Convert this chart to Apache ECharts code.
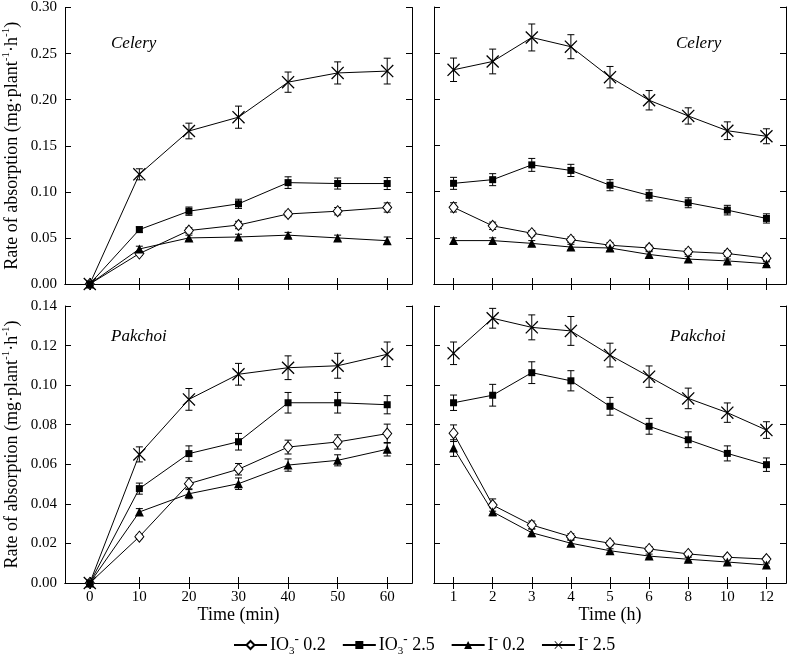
<!DOCTYPE html>
<html>
<head>
<meta charset="utf-8">
<script src="https://cdn.jsdelivr.net/npm/echarts@6/dist/echarts.min.js"></script>
<style>html,body{margin:0;padding:0;background:#fff;}#c{width:787px;height:654px;}</style>
</head>
<body>
<div id="c"></div>
<script>
// ---------- categories / ticks ----------
const minCats = ['0', '10', '20', '30', '40', '50', '60'];
const hourCats = ['1', '2', '3', '4', '5', '6', '8', '10', '12'];
const seriesNames = ['IO3- 0.2', 'IO3- 2.5', 'I- 0.2', 'I- 2.5'];

// ---------- Celery, time (min) ----------
const celeryMin_IO3_02 = [0, 0.033, 0.058, 0.064, 0.076, 0.079, 0.083];
const celeryMin_IO3_25 = [0, 0.059, 0.079, 0.087, 0.110, 0.109, 0.109];
const celeryMin_I_02   = [0, 0.038, 0.050, 0.051, 0.053, 0.050, 0.047];
const celeryMin_I_25   = [0, 0.119, 0.166, 0.181, 0.219, 0.229, 0.231];
const celeryMinErr_IO3_02 = [0, 0.002, 0.003, 0.004, 0.003, 0.004, 0.005];
const celeryMinErr_IO3_25 = [0, 0.003, 0.0045, 0.005, 0.0063, 0.006, 0.0065];
const celeryMinErr_I_02   = [0, 0.003, 0.003, 0.003, 0.003, 0.003, 0.004];
const celeryMinErr_I_25   = [0, 0.006, 0.0085, 0.012, 0.011, 0.012, 0.014];

// ---------- Celery, time (h) ----------
const celeryH_IO3_02 = [0.083, 0.063, 0.055, 0.048, 0.042, 0.039, 0.035, 0.033, 0.028];
const celeryH_IO3_25 = [0.109, 0.113, 0.129, 0.123, 0.107, 0.096, 0.088, 0.080, 0.071];
const celeryH_I_02   = [0.047, 0.047, 0.044, 0.040, 0.039, 0.032, 0.027, 0.025, 0.022];
const celeryH_I_25   = [0.232, 0.241, 0.267, 0.257, 0.224, 0.199, 0.182, 0.166, 0.160];
const celeryHErr_IO3_02 = [0.005, 0.004, 0.003, 0.003, 0.003, 0.003, 0.003, 0.003, 0.003];
const celeryHErr_IO3_25 = [0.0065, 0.0065, 0.007, 0.0066, 0.006, 0.006, 0.0054, 0.0052, 0.005];
const celeryHErr_I_02   = [0.003, 0.003, 0.003, 0.003, 0.003, 0.003, 0.003, 0.002, 0.002];
const celeryHErr_I_25   = [0.0127, 0.0134, 0.0146, 0.013, 0.0116, 0.0105, 0.0088, 0.0096, 0.0081];

// ---------- Pakchoi, time (min) ----------
const pakMin_IO3_02 = [0, 0.0234, 0.0502, 0.0575, 0.0687, 0.0713, 0.0755];
const pakMin_IO3_25 = [0, 0.0477, 0.0654, 0.0714, 0.0911, 0.0911, 0.0901];
const pakMin_I_02   = [0, 0.0359, 0.0451, 0.0502, 0.0596, 0.0620, 0.0676];
const pakMin_I_25   = [0, 0.0650, 0.0928, 0.1055, 0.1088, 0.1098, 0.1156];
const pakMinErr_IO3_02 = [0, 0.001, 0.003, 0.0029, 0.0035, 0.0036, 0.0048];
const pakMinErr_IO3_25 = [0, 0.0028, 0.0039, 0.0042, 0.0052, 0.0052, 0.0046];
const pakMinErr_I_02   = [0, 0.0017, 0.0025, 0.0029, 0.0031, 0.0028, 0.0034];
const pakMinErr_I_25   = [0, 0.0038, 0.0055, 0.0055, 0.006, 0.0063, 0.0062];

// ---------- Pakchoi, time (h) ----------
const pakH_IO3_02 = [0.0757, 0.0394, 0.0293, 0.0234, 0.0201, 0.0172, 0.0147, 0.0130, 0.0121];
const pakH_IO3_25 = [0.0911, 0.0949, 0.1063, 0.1022, 0.0893, 0.0792, 0.0724, 0.0655, 0.0598];
const pakH_I_02   = [0.0682, 0.0360, 0.0254, 0.0201, 0.0163, 0.0136, 0.0120, 0.0106, 0.0091];
const pakH_I_25   = [0.1161, 0.1338, 0.1292, 0.1274, 0.1152, 0.1043, 0.0933, 0.0861, 0.0773];
const pakHErr_IO3_02 = [0.0042, 0.0031, 0.002, 0.0015, 0.0012, 0.0012, 0.001, 0.001, 0.001];
const pakHErr_IO3_25 = [0.0039, 0.0055, 0.0055, 0.0051, 0.0045, 0.004, 0.004, 0.0038, 0.0034];
const pakHErr_I_02   = [0.0042, 0.002, 0.002, 0.0015, 0.001, 0.001, 0.001, 0.001, 0.001];
const pakHErr_I_25   = [0.0057, 0.005, 0.0063, 0.0073, 0.006, 0.0054, 0.0052, 0.0049, 0.0042];

// y-axis tick settings
const celeryYMax = 0.30, celeryYStep = 0.05;
const pakYMax = 0.14, pakYStep = 0.02;

const FONT = 'Liberation Serif';

const panels = [
  { grid: { left: 62, top: 7, width: 350, height: 277 }, cats: minCats, ymax: celeryYMax, step: celeryYStep, yLabels: true, xLabels: false,
    vals: [celeryMin_IO3_02, celeryMin_IO3_25, celeryMin_I_02, celeryMin_I_25],
    errs: [celeryMinErr_IO3_02, celeryMinErr_IO3_25, celeryMinErr_I_02, celeryMinErr_I_25] },
  { grid: { left: 434, top: 7, width: 352, height: 277 }, cats: hourCats, ymax: celeryYMax, step: celeryYStep, yLabels: false, xLabels: false,
    vals: [celeryH_IO3_02, celeryH_IO3_25, celeryH_I_02, celeryH_I_25],
    errs: [celeryHErr_IO3_02, celeryHErr_IO3_25, celeryHErr_I_02, celeryHErr_I_25] },
  { grid: { left: 62, top: 306, width: 350, height: 277 }, cats: minCats, ymax: pakYMax, step: pakYStep, yLabels: true, xLabels: true, xName: 'Time (min)',
    vals: [pakMin_IO3_02, pakMin_IO3_25, pakMin_I_02, pakMin_I_25],
    errs: [pakMinErr_IO3_02, pakMinErr_IO3_25, pakMinErr_I_02, pakMinErr_I_25] },
  { grid: { left: 434, top: 306, width: 352, height: 277 }, cats: hourCats, ymax: pakYMax, step: pakYStep, yLabels: false, xLabels: true, xName: 'Time (h)',
    vals: [pakH_IO3_02, pakH_IO3_25, pakH_I_02, pakH_I_25],
    errs: [pakHErr_IO3_02, pakHErr_IO3_25, pakHErr_I_02, pakHErr_I_25] }
];

const xPath = 'path://M0,0.7L0.7,0L5,4.3L9.3,0L10,0.7L5.7,5L10,9.3L9.3,10L5,5.7L0.7,10L0,9.3L4.3,5Z';
const symbolDefs = [
  { symbol: 'diamond', size: [9, 11], fill: '#fff' },
  { symbol: 'rect', size: 7, fill: '#000' },
  { symbol: 'triangle', size: 9, fill: '#000' },
  { symbol: xPath, size: 13, fill: '#000' }
];

const axisLine = { show: true, lineStyle: { color: '#000', width: 1 } };
const tick = { show: true, inside: true, length: 6, alignWithLabel: true, lineStyle: { color: '#000', width: 1 } };
const yNameText = 'Rate of absorption (mg·plant{sup|-1}·h{sup|-1})';

const grids = [], xAxes = [], yAxes = [], series = [];
panels.forEach((p, pi) => {
  grids.push(Object.assign({ containLabel: false, show: false }, p.grid));
  xAxes.push({
    type: 'category', gridIndex: pi, data: p.cats, position: 'bottom', boundaryGap: true,
    axisLine, axisTick: tick,
    axisLabel: { show: p.xLabels, color: '#000', fontFamily: FONT, fontSize: 15, margin: 7 },
    name: p.xName || '', nameLocation: 'middle', nameGap: 23,
    nameTextStyle: { color: '#000', fontFamily: FONT, fontSize: 18, fontWeight: 'normal' },
    splitLine: { show: false }
  });
  yAxes.push({
    type: 'value', gridIndex: pi, min: 0, max: p.ymax, interval: p.step, position: 'left',
    axisLine, axisTick: { show: true, inside: true, length: 6, lineStyle: { color: '#000', width: 1 } },
    axisLabel: { show: p.yLabels, color: '#000', fontFamily: FONT, fontSize: 15, margin: 8,
      formatter: v => v.toFixed(2) },
    name: p.yLabels ? yNameText : '', nameLocation: 'middle', nameGap: 42,
    nameTextStyle: { color: '#000', fontFamily: FONT, fontSize: 18, fontWeight: 'normal', lineHeight: 22,
      rich: { sup: { fontFamily: FONT, fontSize: 11, verticalAlign: 'top', lineHeight: 22, color: '#000' } } },
    splitLine: { show: false }
  });
});
// mirror axes (top / right)
panels.forEach((p, pi) => {
  xAxes.push({
    type: 'category', gridIndex: pi, data: p.cats, position: 'top', boundaryGap: true,
    axisLine, axisTick: tick, axisLabel: { show: false }, splitLine: { show: false }
  });
  yAxes.push({
    type: 'value', gridIndex: pi, min: 0, max: p.ymax, interval: p.step, position: 'right',
    axisLine, axisTick: { show: true, inside: true, length: 6, lineStyle: { color: '#000', width: 1 } },
    axisLabel: { show: false }, splitLine: { show: false }
  });
});

function renderErr(params, api) {
  const i = api.value(0), v = api.value(1), e = api.value(2);
  if (!e) return null;
  const a = api.coord([i, v + e]);
  const b = api.coord([i, v - e]);
  const w = 3.5;
  const st = { stroke: '#000', lineWidth: 1 };
  return {
    type: 'group',
    children: [
      { type: 'line', shape: { x1: a[0], y1: a[1], x2: b[0], y2: b[1] }, style: st },
      { type: 'line', shape: { x1: a[0] - w, y1: a[1], x2: a[0] + w, y2: a[1] }, style: st },
      { type: 'line', shape: { x1: b[0] - w, y1: b[1], x2: b[0] + w, y2: b[1] }, style: st }
    ]
  };
}

panels.forEach((p, pi) => {
  p.vals.forEach((vals, si) => {
    const errs = p.errs[si];
    series.push({
      type: 'custom', name: 'err' + pi + '_' + si, xAxisIndex: pi, yAxisIndex: pi, z: 1,
      renderItem: renderErr, encode: { x: 0, y: 1 }, clip: false,
      data: vals.map((v, i) => [i, v, errs[i]])
    });
  });
  p.vals.forEach((vals, si) => {
    const sd = symbolDefs[si];
    series.push({
      type: 'line', name: seriesNames[si], xAxisIndex: pi, yAxisIndex: pi, z: 3,
      data: vals, symbol: sd.symbol, symbolSize: sd.size, showSymbol: true,
      lineStyle: { color: '#000', width: 1 },
      itemStyle: { color: sd.fill, borderColor: '#000', borderWidth: sd.fill === '#fff' ? 1 : 0 },
      emphasis: { disabled: true }
    });
  });
});

const labelStyle = { fill: '#000', font: 'italic 17px "Liberation Serif"' };
const chart = echarts.init(document.getElementById('c'), null, { renderer: 'canvas' });
chart.setOption({
  animation: false,
  backgroundColor: '#fff',
  grid: grids,
  xAxis: xAxes,
  yAxis: yAxes,
  legend: {
    data: seriesNames, left: 228, top: 628, itemWidth: 33, itemHeight: 10, itemGap: 16,
    selectedMode: false,
    formatter: name => name.startsWith('IO3-') ? 'IO{sub|3}{sup|-}' + name.slice(4) : 'I{sup|-}' + name.slice(2),
    textStyle: { color: '#000', fontFamily: FONT, fontSize: 18, lineHeight: 24, padding: [0, 0, 0, -2],
      rich: {
        sub: { fontFamily: FONT, fontSize: 11, verticalAlign: 'bottom', lineHeight: 24, color: '#000' },
        sup: { fontFamily: FONT, fontSize: 13, fontWeight: 'bold', verticalAlign: 'top', lineHeight: 24, color: '#000' }
      } }
  },
  graphic: [
    { type: 'text', left: 111, top: 35, style: Object.assign({ text: 'Celery' }, labelStyle) },
    { type: 'text', left: 676, top: 35, style: Object.assign({ text: 'Celery' }, labelStyle) },
    { type: 'text', left: 111, top: 328, style: Object.assign({ text: 'Pakchoi' }, labelStyle) },
    { type: 'text', left: 670, top: 328, style: Object.assign({ text: 'Pakchoi' }, labelStyle) }
  ],
  series
});
</script>
</body>
</html>
